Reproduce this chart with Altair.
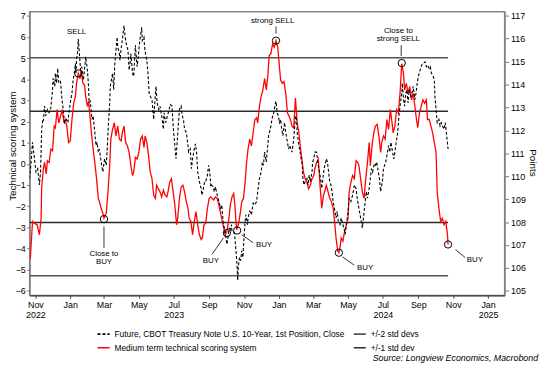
import altair as alt
import pandas as pd

FONT = "Liberation Sans"
BASE = pd.Timestamp("2022-11-01")

FUT = "Future, CBOT Treasury Note U.S. 10-Year, 1st Position, Close"
RED = "Medium term technical scoring system"
SD2 = "+/-2 std devs"
SD1 = "+/-1 std dev"
SOURCE = "Source: Longview Economics, Macrobond"

# (days after 2022-11-01, score)
red_points = [
    (-9, -4.51), (-5, -2.72), (-2, -2.80), (3, -2.88), (7, -3.35), (10, -2.57), (11, -1.09), (14, -0.23),
    (16, 0.07), (19, -0.47), (21, 0.15), (24, 0.07), (27, 0.70), (30, 0.62), (33, 1.79), (35, 1.71),
    (38, 2.57), (41, 1.94), (44, 2.25), (47, 2.57), (50, 1.94), (52, 2.10), (55, 1.79), (58, 1.01),
    (61, 1.09), (64, 2.10), (67, 2.87), (70, 3.19), (72, 3.81), (75, 4.27), (78, 4.04), (80, 4.43),
    (83, 3.81), (86, 3.73), (88, 3.19), (91, 2.72), (93, 2.95), (95, 2.41), (98, 1.47), (101, 0.70),
    (104, 0.07), (107, -0.70), (110, -1.63), (112, -1.79), (115, -2.10), (118, -2.33), (120, -2.57),
    (124, -2.33), (127, -1.32), (130, -0.08), (132, 1.17), (135, 1.63), (138, 1.94), (141, 1.32),
    (144, 1.79), (147, 1.17), (150, 1.09), (152, 1.47), (155, 1.79), (158, 1.01), (161, 0.85),
    (164, 0.54), (167, -0.08), (170, -0.55), (172, -0.39), (175, 0.31), (178, 0.23), (181, 0.54),
    (184, 1.17), (187, 1.32), (190, 0.78), (192, 1.32), (195, 1.01), (198, 0.39), (201, -0.39),
    (204, -0.70), (207, -1.48), (210, -1.63), (212, -1.01), (215, -1.17), (218, -1.32), (221, -1.56),
    (224, -1.24), (227, -1.48), (230, -1.56), (232, -1.32), (235, -0.86), (238, -0.70), (241, -1.32),
    (244, -1.95), (247, -2.88), (249, -2.57), (252, -1.63), (255, -1.09), (258, -1.01), (261, -1.32),
    (264, -1.79), (267, -2.10), (269, -2.57), (272, -2.72), (275, -3.35), (278, -2.72), (281, -2.26),
    (284, -2.88), (287, -3.35), (290, -3.58), (292, -3.50), (295, -2.88), (298, -2.80), (301, -2.10),
    (304, -1.63), (307, -1.56), (309, -1.63), (312, -1.71), (315, -1.56), (318, -1.63), (321, -1.95),
    (324, -2.33), (327, -2.72), (329, -2.96), (332, -3.35), (335, -3.19), (338, -2.72), (341, -1.95),
    (344, -1.56), (347, -1.40), (349, -1.95), (352, -3.11), (355, -2.88), (358, -2.41), (361, -1.79),
    (364, -1.63), (367, -0.86), (369, -0.08), (372, 0.70), (375, 1.17), (378, 0.85), (381, 1.47),
    (384, 2.10), (387, 2.18), (389, 1.94), (392, 2.72), (395, 3.19), (398, 3.50), (401, 4.04),
    (404, 3.50), (407, 4.27), (409, 5.13), (412, 5.21), (415, 5.67), (418, 5.52), (421, 5.83),
    (424, 5.52), (427, 4.59), (429, 3.97), (432, 3.81), (435, 3.89), (438, 3.34), (441, 2.41),
    (444, 2.25), (447, 2.02), (449, 1.79), (452, 1.71), (455, 3.11), (458, 1.94), (461, 1.47),
    (464, 0.70), (467, 0.07), (469, -0.39), (472, -0.70), (475, -0.86), (478, -1.17), (481, -1.01),
    (484, -0.70), (487, -0.55), (489, -0.23), (492, 0.07), (495, 0.23), (498, -1.01), (501, -2.10),
    (504, -1.48), (506, -1.32), (509, -1.01), (512, -1.32), (515, -1.63), (518, -1.79), (521, -2.10),
    (524, -2.88), (526, -3.50), (529, -4.12), (531, -4.20), (533, -3.97), (535, -3.50), (538, -3.66),
    (541, -3.19), (544, -2.88), (547, -2.57), (549, -1.32), (552, -0.86), (555, -0.55), (558, -0.70),
    (561, 0.15), (564, 0.07), (566, -0.08), (569, -0.70), (572, -1.32), (575, -1.63), (578, -0.70),
    (581, 0.07), (584, 1.01), (586, -0.08), (589, 0.85), (592, 1.47), (595, 1.79), (598, 1.87),
    (601, 1.32), (604, 0.54), (606, 1.01), (609, 1.32), (612, 1.17), (615, 2.10), (618, 1.63),
    (621, 2.57), (624, 1.94), (626, 1.47), (629, 1.79), (632, 2.57), (635, 2.41), (638, 3.34),
    (641, 4.74), (644, 4.27), (646, 3.50), (649, 3.81), (652, 3.34), (655, 3.66), (658, 3.03),
    (661, 3.34), (664, 2.72), (666, 2.25), (669, 1.71), (672, 2.41), (675, 2.72), (678, 3.03),
    (681, 2.87), (684, 3.03), (686, 2.10), (689, 2.10), (692, 1.79), (695, 1.47), (698, 1.01),
    (701, 0.54), (703, -1.32), (706, -2.10), (709, -2.72), (712, -2.57), (715, -2.88), (718, -2.72),
    (721, -3.35), (722, -3.81),
]

# (days after 2022-11-01, futures price in points)
fut_points = [
    (-10, 109.90), (-8, 110.48), (-5, 111.48), (-3, 111.05), (-1, 110.62), (1, 110.19), (4, 110.33),
    (7, 109.62), (9, 110.19), (11, 112.05), (13, 112.48), (14, 112.41), (16, 113.06), (18, 112.63),
    (21, 112.91), (24, 112.77), (27, 112.98), (30, 113.77), (31, 114.27), (34, 113.92), (35, 114.49),
    (37, 114.06), (39, 114.70), (41, 114.06), (44, 114.13), (46, 113.49), (48, 113.06), (51, 112.34),
    (54, 112.48), (57, 112.34), (58, 112.63), (61, 113.20), (64, 113.63), (66, 114.20), (68, 114.49),
    (70, 114.92), (71, 114.49), (72, 115.06), (74, 115.49), (75, 115.99), (77, 115.35), (79, 114.63),
    (81, 114.78), (84, 114.20), (87, 114.92), (88, 115.21), (91, 114.63), (93, 113.92), (94, 113.20),
    (96, 113.27), (99, 112.48), (101, 112.63), (104, 111.91), (106, 111.34), (108, 111.48), (110, 111.05),
    (112, 111.19), (115, 110.62), (118, 110.19), (121, 110.76), (124, 110.48), (126, 111.34), (127, 111.91),
    (130, 113.20), (131, 113.92), (133, 114.20), (135, 114.49), (137, 113.77), (139, 114.92), (141, 115.49),
    (143, 116.07), (144, 115.64), (147, 115.35), (148, 115.06), (150, 115.56), (152, 115.92), (155, 116.57),
    (157, 116.07), (159, 115.78), (162, 115.49), (164, 114.63), (166, 114.99), (167, 115.35), (170, 114.49),
    (172, 114.35), (175, 115.71), (177, 115.06), (178, 114.78), (180, 115.21), (182, 115.78), (184, 116.14),
    (186, 116.50), (187, 115.92), (190, 116.07), (191, 115.64), (193, 115.28), (195, 115.06), (197, 114.49),
    (199, 113.63), (201, 113.49), (204, 113.34), (207, 112.48), (210, 113.63), (211, 113.92), (213, 113.20),
    (216, 112.91), (218, 113.06), (221, 112.63), (224, 112.05), (225, 112.77), (228, 112.34), (231, 112.63),
    (234, 112.91), (236, 113.13), (239, 113.06), (241, 112.20), (244, 111.34), (246, 110.76), (248, 111.48),
    (250, 112.20), (252, 112.91), (255, 113.06), (257, 112.63), (259, 112.48), (261, 112.05), (264, 111.91),
    (267, 111.34), (268, 111.05), (271, 111.19), (273, 110.33), (275, 110.76), (278, 111.19), (280, 111.41),
    (282, 111.05), (284, 110.19), (287, 109.76), (290, 109.47), (291, 109.18), (293, 109.33), (296, 109.76),
    (298, 109.76), (301, 110.05), (303, 110.48), (305, 110.19), (307, 109.54), (308, 109.62), (311, 109.54),
    (313, 109.33), (315, 109.54), (318, 109.18), (321, 108.90), (324, 108.61), (326, 108.75), (328, 108.18),
    (329, 107.89), (332, 107.61), (335, 107.03), (337, 107.32), (339, 107.75), (341, 107.61), (343, 107.89),
    (344, 107.61), (347, 107.61), (349, 107.32), (351, 106.75), (353, 106.03), (354, 105.46), (355, 106.03),
    (357, 106.46), (359, 106.32), (361, 106.75), (363, 106.46), (365, 107.32), (367, 108.04), (368, 108.32),
    (371, 107.89), (372, 108.18), (375, 108.47), (378, 108.32), (381, 108.83), (384, 108.75), (387, 108.90),
    (389, 109.33), (392, 109.90), (395, 110.19), (397, 110.62), (399, 110.48), (401, 111.05), (404, 110.62),
    (406, 111.19), (408, 111.77), (411, 112.05), (413, 112.34), (415, 112.63), (417, 112.77), (420, 113.20),
    (421, 113.27), (423, 112.77), (425, 112.63), (427, 112.34), (429, 112.48), (431, 112.05), (433, 111.77),
    (436, 112.34), (438, 111.91), (440, 111.62), (443, 111.19), (445, 111.34), (447, 111.19), (449, 111.05),
    (452, 111.62), (455, 112.63), (457, 112.48), (458, 111.91), (461, 111.34), (463, 111.05), (465, 110.76),
    (467, 110.48), (468, 109.90), (470, 109.62), (472, 109.76), (475, 109.90), (477, 109.62), (479, 110.05),
    (481, 109.76), (484, 110.19), (485, 110.62), (487, 110.76), (489, 111.05), (492, 111.05), (494, 110.62),
    (496, 110.33), (499, 109.90), (501, 109.47), (503, 109.90), (505, 110.33), (508, 110.62), (509, 110.76),
    (511, 110.62), (513, 110.19), (515, 109.76), (517, 109.62), (519, 109.33), (521, 108.90), (524, 108.47),
    (526, 108.18), (528, 108.47), (530, 108.04), (533, 107.89), (535, 108.18), (538, 107.89), (541, 107.61),
    (542, 107.46), (545, 108.04), (547, 108.47), (549, 109.04), (552, 108.90), (555, 109.18), (558, 109.62),
    (561, 109.47), (563, 109.04), (565, 108.75), (567, 108.47), (570, 108.04), (572, 107.75), (574, 108.18),
    (577, 108.90), (579, 109.33), (581, 109.04), (584, 109.47), (586, 109.90), (588, 110.33), (590, 110.19),
    (593, 110.55), (595, 110.48), (597, 110.62), (600, 110.19), (602, 109.90), (604, 109.33), (607, 109.76),
    (609, 110.33), (611, 110.48), (613, 110.62), (616, 111.05), (618, 111.34), (620, 111.05), (622, 111.48),
    (625, 111.05), (627, 110.76), (629, 111.05), (632, 111.62), (634, 111.91), (636, 112.63), (638, 113.06),
    (641, 113.63), (642, 114.06), (644, 113.34), (646, 113.06), (648, 113.63), (650, 113.77), (652, 113.20),
    (654, 113.77), (657, 113.49), (659, 113.63), (661, 113.92), (664, 113.34), (666, 113.63), (668, 114.06),
    (670, 114.35), (673, 114.63), (675, 114.78), (677, 114.92), (680, 114.95), (682, 114.99), (684, 114.78),
    (686, 114.85), (689, 114.70), (691, 114.78), (693, 114.49), (696, 114.35), (698, 114.20), (699, 113.49),
    (701, 112.91), (703, 112.34), (706, 112.48), (708, 112.20), (710, 112.34), (712, 112.20), (715, 112.05),
    (717, 112.34), (719, 111.91), (722, 111.19),
]

std_levels = [5.02, 2.49, -2.77, -5.29]
std_series = [SD2, SD1, SD1, SD2]
std_span = (-10, 722)

# signal circles on the scoring line: (day, score)
circle_points = [(75, 4.28), (120, -2.61), (335, -3.27), (353, -3.15), (421, 5.83),
                 (531, -4.20), (641, 4.77), (722, -3.81)]
# annotation texts: (text, day, score at top of first line)
label_points = [("SELL", 72, 6.43), ("Close to\nBUY", 120, -4.07), ("BUY", 307, -4.42),
                ("BUY", 400, -3.65), ("strong SELL", 415, 6.96), ("BUY", 577, -4.74),
                ("Close to\nstrong SELL", 635, 6.49), ("BUY", 769, -4.35)]
# leader lines: (day1, score1, day2, score2)
leader_points = [(120, -2.96, 120, -3.97), (309, -4.28, 329, -3.50), (361, -3.35, 381, -3.73),
                 (421, 6.50, 421, 6.16), (640, 5.61, 640, 5.10), (537, -4.39, 558, -4.79),
                 (735, -4.05, 752, -4.43)]

tick_months = [(2022, 11), (2023, 1), (2023, 3), (2023, 5), (2023, 7), (2023, 9), (2023, 11),
               (2024, 1), (2024, 3), (2024, 5), (2024, 7), (2024, 9), (2024, 11), (2025, 1)]


def day(d):
    return (BASE + pd.Timedelta(days=int(d))).strftime("%Y-%m-%dT00:00:00")


red_df = pd.DataFrame({"date": [day(d) for d, _ in red_points],
                       "val": [v for _, v in red_points], "series": RED})
fut_df = pd.DataFrame({"date": [day(d) for d, _ in fut_points],
                       "val": [v for _, v in fut_points], "series": FUT})
std_df = pd.DataFrame({"date": day(std_span[0]), "date2": day(std_span[1]),
                       "val": std_levels, "series": std_series})
circ_df = pd.DataFrame({"date": [day(d) for d, _ in circle_points],
                        "val": [v for _, v in circle_points]})
lab_df = pd.DataFrame({"label": [t for t, _, _ in label_points],
                       "date": [day(d) for _, d, _ in label_points],
                       "val": [v for _, _, v in label_points]})
lead_df = pd.DataFrame({"date": [day(a) for a, _, _, _ in leader_points],
                        "val": [b for _, b, _, _ in leader_points],
                        "date2": [day(c) for _, _, c, _ in leader_points],
                        "val2": [e for _, _, _, e in leader_points]})
src_df = pd.DataFrame({"src": [SOURCE]})

label_expr = ("[timeFormat(datum.value, '%b'), "
              "(month(datum.value) == 6 || year(datum.value) == 2022 || year(datum.value) == 2025) "
              "? timeFormat(datum.value, '%Y') : '']")

x_axis = alt.Axis(values=[alt.DateTime(year=y, month=m, date=1) for y, m in tick_months],
                  labelExpr=label_expr, labelFontSize=9, labelLineHeight=10, labelPadding=2,
                  tickSize=3, tickColor="#555", domainColor="#222", labelFlush=False,
                  labelOverlap=False, grid=False, title=None, labelColor="black")
X = alt.X("date:T", scale=alt.Scale(domain=[alt.DateTime(year=2022, month=10, date=22),
                                            alt.DateTime(year=2025, month=1, date=30)]),
          axis=x_axis, title=None)

left_axis = alt.Axis(orient="left", values=list(range(-6, 8)), format="d", grid=False,
                     title="Technical scoring system", titleFontSize=10, titleFontWeight="normal",
                     titleAngle=270, titleX=-22, titleY=136, titleAlign="center", titleBaseline="top",
                     labelFontSize=9, labelPadding=1.5, tickSize=3, tickColor="#777",
                     domainColor="#777", labelColor="black", titleColor="black")
right_axis = alt.Axis(orient="right", values=list(range(105, 118)), format="d", grid=False,
                      title="Points", titleFontSize=10, titleFontWeight="normal",
                      titleAngle=90, titleX=23, titleY=153, titleAlign="center", titleBaseline="bottom",
                      labelFontSize=9, labelPadding=2, tickSize=4, tickColor="#777",
                      domainColor="#777", labelColor="black", titleColor="black")
YL = alt.Y("val:Q", scale=alt.Scale(domain=[-6.22, 7.20], nice=False, zero=False), axis=left_axis)
YR = alt.Y("val:Q", scale=alt.Scale(domain=[104.80, 117.18], nice=False, zero=False), axis=right_axis)

series_domain = [FUT, RED, SD2, SD1]
legend = alt.Legend(title=None, orient="none", legendX=68, legendY=320, columns=2,
                    symbolType="stroke", symbolSize=150, symbolStrokeWidth=1.6,
                    labelFontSize=8.5, labelFont=FONT, labelLimit=400, columnPadding=4,
                    rowPadding=2, labelColor="black")
COLOR = alt.Color("series:N", scale=alt.Scale(domain=series_domain,
                                              range=["#000000", "#ff0000", "#555555", "#2a2a2a"]),
                  legend=legend)
DASH = alt.StrokeDash("series:N", scale=alt.Scale(domain=series_domain,
                                                  range=[[3, 2], [1, 0], [1, 0], [1, 0]]),
                      legend=legend)

std_layer = alt.Chart(std_df).mark_rule(strokeWidth=1.4).encode(
    x=X, x2="date2:T", y=YL, color=COLOR, strokeDash=DASH)
red_layer = alt.Chart(red_df).mark_line(strokeWidth=1.3, clip=True).encode(
    x=X, y=YL, color=COLOR, strokeDash=DASH)
lead_layer = alt.Chart(lead_df).mark_rule(color="black", strokeWidth=0.8).encode(
    x=X, x2="date2:T", y=YL, y2="val2:Q")
circ_layer = alt.Chart(circ_df).mark_point(shape="circle", filled=False, size=55,
                                           color="black", strokeWidth=1, opacity=1).encode(x=X, y=YL)
lab_layer = alt.Chart(lab_df).mark_text(font=FONT, fontSize=8, color="black", align="center",
                                        baseline="top", lineBreak="\n", lineHeight=8.5).encode(
    x=X, y=YL, text="label:N")
src_layer = alt.Chart(src_df).mark_text(font=FONT, fontSize=9, fontStyle="italic", color="black",
                                        align="right", baseline="middle").encode(
    x=alt.value(516), y=alt.value(352), text="src:N")

left_group = alt.layer(std_layer, red_layer, lead_layer, circ_layer, lab_layer, src_layer)
fut_layer = alt.Chart(fut_df).mark_line(strokeWidth=1.1, clip=True).encode(
    x=X, y=YR, color=COLOR, strokeDash=DASH)

chart = alt.layer(left_group, fut_layer).resolve_scale(y="independent").properties(
    width=482, height=288,
    autosize=alt.AutoSizeParams(type="none"),
    padding={"left": 22, "top": 1, "right": 44, "bottom": 75},
    background="white",
).configure_view(stroke="#888888", strokeWidth=1.5).configure_axis(
    labelFont=FONT, titleFont=FONT)

chart.save("out.html", embed_options={"renderer": "svg", "actions": False})
